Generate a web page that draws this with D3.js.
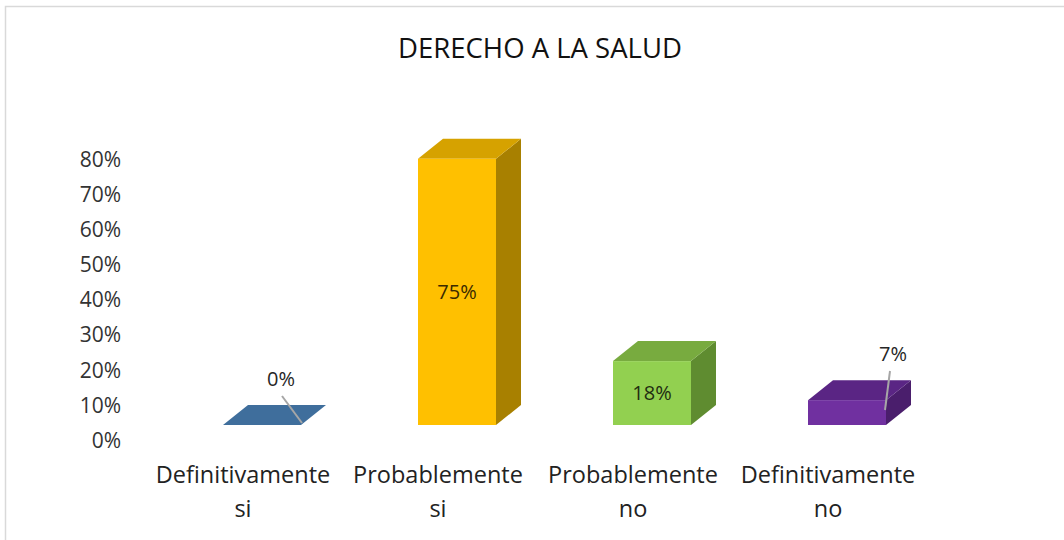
<!DOCTYPE html>
<html><head><meta charset="utf-8">
<script src="https://cdn.jsdelivr.net/npm/d3@7"></script>
<style>html,body{margin:0;padding:0;background:#fff;}svg{display:block;}</style>
</head><body>
<svg id="c" width="1064" height="540"></svg>
<script>
const categories = ["Definitivamente si", "Probablemente si", "Probablemente no", "Definitivamente no"];
const values = [0, 0.75, 0.18, 0.07];
const valueLabels = ["0%", "75%", "18%", "7%"];
const tickValues = [0, 0.1, 0.2, 0.3, 0.4, 0.5, 0.6, 0.7, 0.8];
const frontColors = ["#41719c", "#ffc000", "#92d050", "#7030a0"];
const topColors = ["#3f6e9c", "#d6a200", "#78ab3f", "#5a2584"];
const sideColors = ["#2f5478", "#a88000", "#5f8c30", "#4a1e6c"];

const svg = d3.select("#c");
const font = "'Open Sans', 'Noto Sans', sans-serif";

// border
svg.append("rect").attr("x", 5.5).attr("y", 6.5).attr("width", 1070).attr("height", 540)
  .attr("fill", "#fff").attr("stroke", "#d9d9d9").attr("stroke-width", 1.5);

svg.append("text").attr("x", 540).attr("y", 58).attr("text-anchor", "middle")
  .attr("font-family", font).attr("font-size", 27.5).attr("fill", "#111")
  .text("DERECHO A LA SALUD");

const x = d3.scaleBand().domain(categories).range([145.5, 925.5]).padding(0);
const y = d3.scaleLinear().domain([0, 0.8]).range([425, 141]);
const yAxisScale = d3.scaleLinear().domain([0, 0.8]).range([440, 159]);

const depthX = 25, depthY = -20, barW = 78;

// y axis labels
const yAxis = d3.axisLeft(yAxisScale).tickValues(tickValues).tickFormat(d3.format(".0%")).tickSize(0).tickPadding(0);
const gy = svg.append("g").attr("transform", "translate(121,0)").call(yAxis);
gy.select(".domain").remove();
gy.selectAll("text").attr("font-family", font).attr("font-size", 21).attr("fill", "#333").attr("dy", "0.35em");

// bars
const bars = svg.append("g");
categories.forEach((c, i) => {
  const x0 = x(c) + x.bandwidth() / 2 - 20;
  const x1 = x0 + barW;
  const yt = y(values[i]);
  const yb = y(0);
  const g = bars.append("g");
  g.append("path").attr("d", `M${x1},${yb} L${x1 + depthX},${yb + depthY} L${x1 + depthX},${yt + depthY} L${x1},${yt} Z`)
    .attr("fill", sideColors[i]);
  g.append("path").attr("d", `M${x0},${yt} L${x0 + depthX},${yt + depthY} L${x1 + depthX},${yt + depthY} L${x1},${yt} Z`)
    .attr("fill", topColors[i]);
  if (yb - yt > 0.5) {
    g.append("rect").attr("x", x0).attr("y", yt).attr("width", barW).attr("height", yb - yt)
      .attr("fill", frontColors[i]);
  }
});

// data labels
function label(txt, cx, cy, col) {
  svg.append("text").attr("x", cx).attr("y", cy).attr("text-anchor", "middle").attr("dy", "0.35em")
    .attr("font-family", font).attr("font-size", 20).attr("fill", col || "#262626").text(txt);
}
{
  const c = categories[0];
  const cx = x(c) + x.bandwidth() / 2 - 20;
  svg.append("line").attr("x1", cx + 59).attr("y1", 396).attr("x2", cx + 79).attr("y2", y(values[0]) - 2)
    .attr("stroke", "#a6a6a6").attr("stroke-width", 2);
  label(valueLabels[0], cx + 58, 379);
}
{
  const c = categories[1];
  const cx = x(c) + x.bandwidth() / 2 + 19;
  label(valueLabels[1], cx, 292, "#3a2a00");
}
{
  const c = categories[2];
  const cx = x(c) + x.bandwidth() / 2 + 19;
  label(valueLabels[2], cx, 393, "#1f2d10");
}
{
  const c = categories[3];
  const cx = x(c) + x.bandwidth() / 2 - 20;
  svg.append("line").attr("x1", cx + 82).attr("y1", 371).attr("x2", cx + 77).attr("y2", 410)
    .attr("stroke", "#a6a6a6").attr("stroke-width", 2);
  label(valueLabels[3], cx + 85, 354);
}

// category labels
categories.forEach(c => {
  const parts = c.split(" ");
  const cx = x(c) + x.bandwidth() / 2;
  const t = svg.append("text").attr("x", cx).attr("y", 483)
    .attr("text-anchor", "middle").attr("font-family", font).attr("font-size", 23.5).attr("fill", "#222");
  parts.forEach((p, k) => t.append("tspan").attr("x", cx).attr("dy", k === 0 ? 0 : 34).text(p));
});
</script>
</body></html>
